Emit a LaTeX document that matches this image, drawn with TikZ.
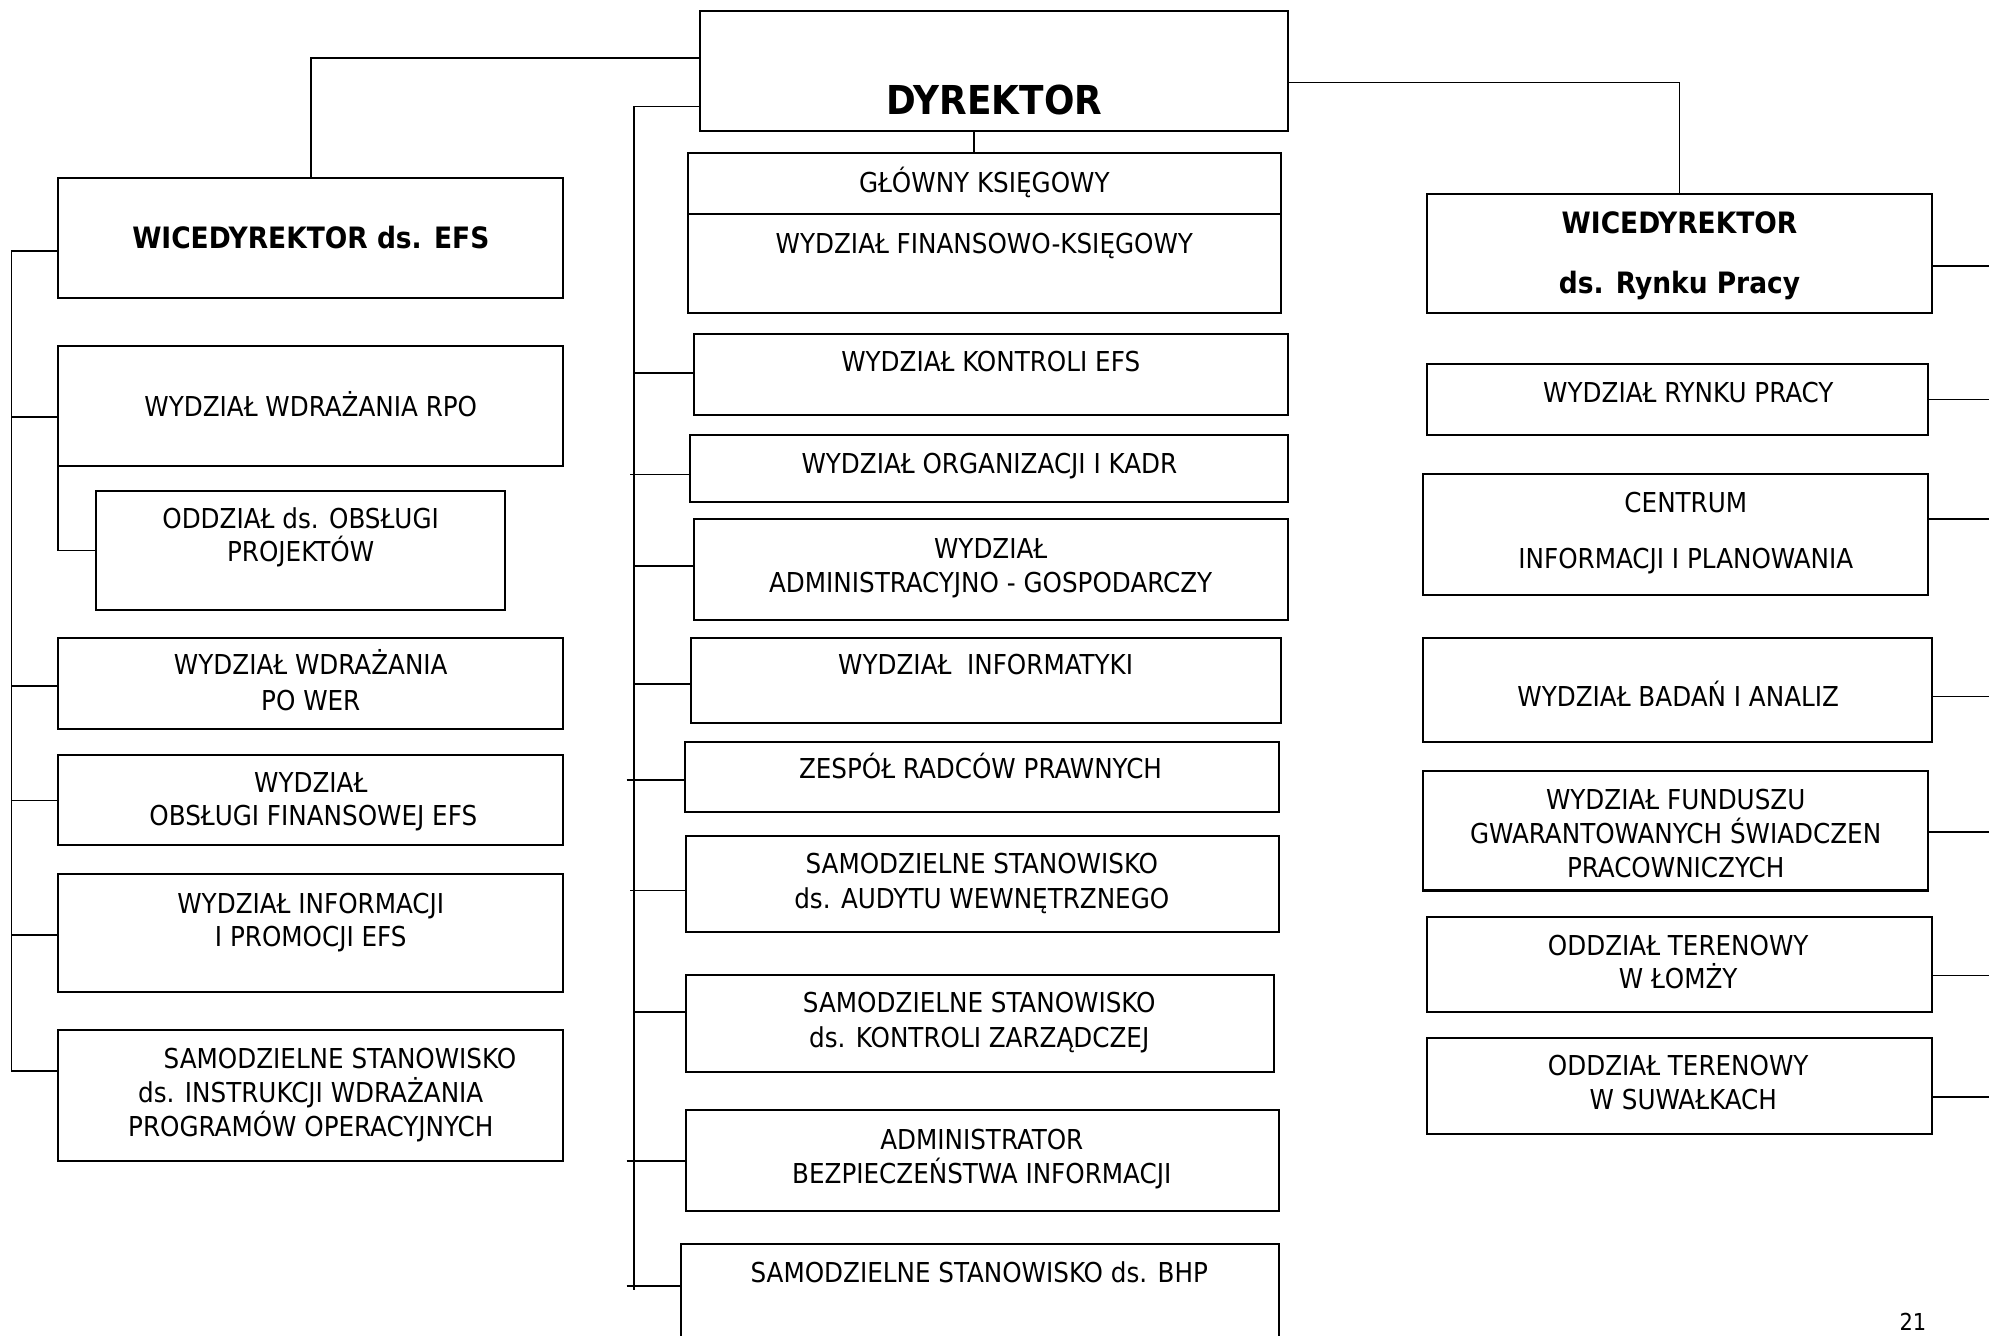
\documentclass[tikz,border=0pt]{standalone}
\usepackage{fontspec}
\setmainfont{DejaVu Sans Condensed}
\usetikzlibrary{calc}
\tikzset{
  box/.style={draw, line width=0.8pt, anchor=north west, inner sep=0pt, outer sep=0pt},
  conn/.style={line width=0.7pt},
  txt/.style={anchor=base, inner sep=0pt, font=\fontsize{10.8}{13}\selectfont},
  btxt/.style={anchor=base, inner sep=0pt, font=\fontsize{11.6}{14}\selectfont\bfseries},
  bigtxt/.style={anchor=base, inner sep=0pt, font=\fontsize{15.7}{18}\selectfont\bfseries},
  pgtxt/.style={anchor=base, inner sep=0pt, font=\fontsize{9.2}{11}\selectfont},
}
% box from image corners (x1,y1)-(x2,y2)
\newcommand\orgbox[5]{\node[box, minimum width={(#4-#2)*0.5pt}, minimum height={(#5-#3)*0.5pt}] (#1) at (#2,#3) {};}
% text line: style, name, centre x, centre y of capitals, text
\newcommand\tline[5]{\node[#1] (#2) at (#3,#4+8) {#5};}
% branch from a vertical spine (x) to the west side of a box at height y
\newcommand\lbranch[3]{\coordinate (#1-j) at (#2,#3); \draw[conn] (#1-j) -- (#1.west |- #1-j);}
% branch from the east side of a box to the right page edge
\newcommand\rbranch[2]{\coordinate (#1-r) at (1575,#2); \draw[conn] (#1.east |- #1-r) -- (#1-r);}
\begin{document}
\begin{tikzpicture}[x=0.5pt,y=-0.5pt]
\clip (0,0) rectangle (1568,1053);
\fill[white] (0,0) rectangle (1568,1053);

% ---------- boxes ----------
\orgbox{dyr}{552}{9}{1015}{103}
\orgbox{wefs}{46}{140}{444}{235}
\orgbox{rpo}{46}{273}{444}{367}
\orgbox{odz}{76}{387}{398}{481}
\orgbox{power}{46}{503}{444}{575}
\orgbox{obsfin}{46}{595}{444}{666}
\orgbox{infpro}{46}{689}{444}{782}
\orgbox{sinstr}{46}{812}{444}{915}

\orgbox{gk}{542}{121}{1010}{247}
\orgbox{kefs}{547}{263}{1015}{327}
\orgbox{kadr}{544}{343}{1015}{396}
\orgbox{adm}{547}{409}{1015}{489}
\orgbox{inf}{545}{503}{1010}{570}
\orgbox{zrp}{540}{585}{1008}{640}
\orgbox{aud}{541}{659}{1008}{735}
\orgbox{kz}{541}{769}{1004}{845}
\orgbox{abi}{541}{875}{1008}{955}
\orgbox{bhp}{537}{981}{1008}{1070}

\orgbox{wrp}{1125}{153}{1523}{247}
\orgbox{rp}{1125}{287}{1520}{343}
\orgbox{cip}{1122}{374}{1520}{469}
\orgbox{bia}{1122}{503}{1523}{585}
\orgbox{fgsp}{1122}{608}{1520}{702}
\orgbox{lom}{1125}{723}{1523}{798}
\orgbox{suw}{1125}{818}{1523}{894}

% divider inside GŁÓWNY KSIĘGOWY
\coordinate (gkdiv) at (0,169);
\draw[line width=0.8pt] (gk.west |- gkdiv) -- (gk.east |- gkdiv);

% ---------- texts ----------
\node[bigtxt] (t-dyr) at (784,90) {DYREKTOR};

\tline{btxt}{t-wefs}{245}{188}{WICEDYREKTOR ds. EFS}
\tline{txt}{t-rpo}{245}{320}{WYDZIAŁ WDRAŻANIA RPO}
\tline{txt}{t-odz1}{237}{409}{ODDZIAŁ ds. OBSŁUGI}
\tline{txt}{t-odz2}{237}{435}{PROJEKTÓW}
\tline{txt}{t-pw1}{245}{524}{WYDZIAŁ WDRAŻANIA}
\tline{txt}{t-pw2}{245}{552}{PO WER}
\tline{txt}{t-of1}{245}{617}{WYDZIAŁ}
\tline{txt}{t-of2}{247}{643}{OBSŁUGI FINANSOWEJ EFS}
\tline{txt}{t-ip1}{245}{712}{WYDZIAŁ INFORMACJI}
\tline{txt}{t-ip2}{245}{738}{I PROMOCJI EFS}
\tline{txt}{t-si1}{268}{834}{SAMODZIELNE STANOWISKO}
\tline{txt}{t-si2}{245}{861}{ds. INSTRUKCJI WDRAŻANIA}
\tline{txt}{t-si3}{245}{888}{PROGRAMÓW OPERACYJNYCH}

\tline{txt}{t-gk1}{776}{144}{GŁÓWNY KSIĘGOWY}
\tline{txt}{t-gk2}{776}{192}{WYDZIAŁ FINANSOWO-KSIĘGOWY}
\tline{txt}{t-kefs}{781}{285}{WYDZIAŁ KONTROLI EFS}
\tline{txt}{t-kadr}{780}{365}{WYDZIAŁ ORGANIZACJI I KADR}
\tline{txt}{t-adm1}{781}{432}{WYDZIAŁ}
\tline{txt}{t-adm2}{781}{459}{ADMINISTRACYJNO - GOSPODARCZY}
\tline{txt}{t-inf}{777}{524}{WYDZIAŁ~ INFORMATYKI}
\tline{txt}{t-zrp}{773}{606}{ZESPÓŁ RADCÓW PRAWNYCH}
\tline{txt}{t-aud1}{774}{681}{SAMODZIELNE STANOWISKO}
\tline{txt}{t-aud2}{774}{708}{ds. AUDYTU WEWNĘTRZNEGO}
\tline{txt}{t-kz1}{772}{790}{SAMODZIELNE STANOWISKO}
\tline{txt}{t-kz2}{772}{818}{ds. KONTROLI ZARZĄDCZEJ}
\tline{txt}{t-abi1}{774}{898}{ADMINISTRATOR}
\tline{txt}{t-abi2}{774}{925}{BEZPIECZEŃSTWA INFORMACJI}
\tline{txt}{t-bhp}{772}{1003}{SAMODZIELNE STANOWISKO ds. BHP}

\tline{btxt}{t-wrp1}{1324}{176}{WICEDYREKTOR}
\tline{btxt}{t-wrp2}{1324}{223}{ds. Rynku Pracy}
\tline{txt}{t-rp}{1331}{309}{WYDZIAŁ RYNKU PRACY}
\tline{txt}{t-cip1}{1329}{396}{CENTRUM}
\tline{txt}{t-cip2}{1329}{440}{INFORMACJI I PLANOWANIA}
\tline{txt}{t-bia}{1323}{549}{WYDZIAŁ BADAŃ I ANALIZ}
\tline{txt}{t-fg1}{1321}{630}{WYDZIAŁ FUNDUSZU}
\tline{txt}{t-fg2}{1321}{657}{GWARANTOWANYCH ŚWIADCZEN}
\tline{txt}{t-fg3}{1321}{684}{PRACOWNICZYCH}
\tline{txt}{t-lom1}{1323}{745}{ODDZIAŁ TERENOWY}
\tline{txt}{t-lom2}{1323}{771}{W ŁOMŻY}
\tline{txt}{t-suw1}{1323}{840}{ODDZIAŁ TERENOWY}
\tline{txt}{t-suw2}{1327}{867}{W SUWAŁKACH}

\node[pgtxt] (pg) at (1508,1049) {21};

% ---------- connectors from DYREKTOR ----------
\coordinate (y46) at (0,46);
\coordinate (y65) at (0,65);
\coordinate (x768) at (768,0);
\draw[conn] (wefs.north) |- (dyr.west |- y46);
\draw[conn] (wrp.north) |- (dyr.east |- y65);
\draw[conn] (dyr.south -| x768) -- (gk.north -| x768);

% ---------- centre spine ----------
\coordinate (cs-top) at (500,84);
\coordinate (cs-bot) at (500,1017);
\draw[conn] (dyr.west |- cs-top) -- (cs-top) -- (cs-bot);
\lbranch{kefs}{500}{294}
\lbranch{kadr}{497}{374}
\lbranch{adm}{500}{446}
\lbranch{inf}{500}{539}
\lbranch{zrp}{494}{615}
\lbranch{aud}{497}{702}
\lbranch{kz}{500}{798}
\lbranch{abi}{494}{915}
\lbranch{bhp}{494}{1014}

% ---------- left spine ----------
\coordinate (ls-top) at (9,198);
\coordinate (ls-bot) at (9,844);
\draw[conn] (wefs.west |- ls-top) -- (ls-top) -- (ls-bot) -- (sinstr.west |- ls-bot);
\lbranch{rpo}{9}{329}
\lbranch{power}{9}{541}
\lbranch{obsfin}{9}{631}
\lbranch{infpro}{9}{737}
\draw[conn] (rpo.south west) |- (odz.west);

% ---------- right branches ----------
\rbranch{wrp}{210}
\rbranch{rp}{315}
\rbranch{cip}{409}
\rbranch{bia}{549}
\rbranch{fgsp}{656}
\rbranch{lom}{769}
\rbranch{suw}{865}
\end{tikzpicture}
\end{document}
